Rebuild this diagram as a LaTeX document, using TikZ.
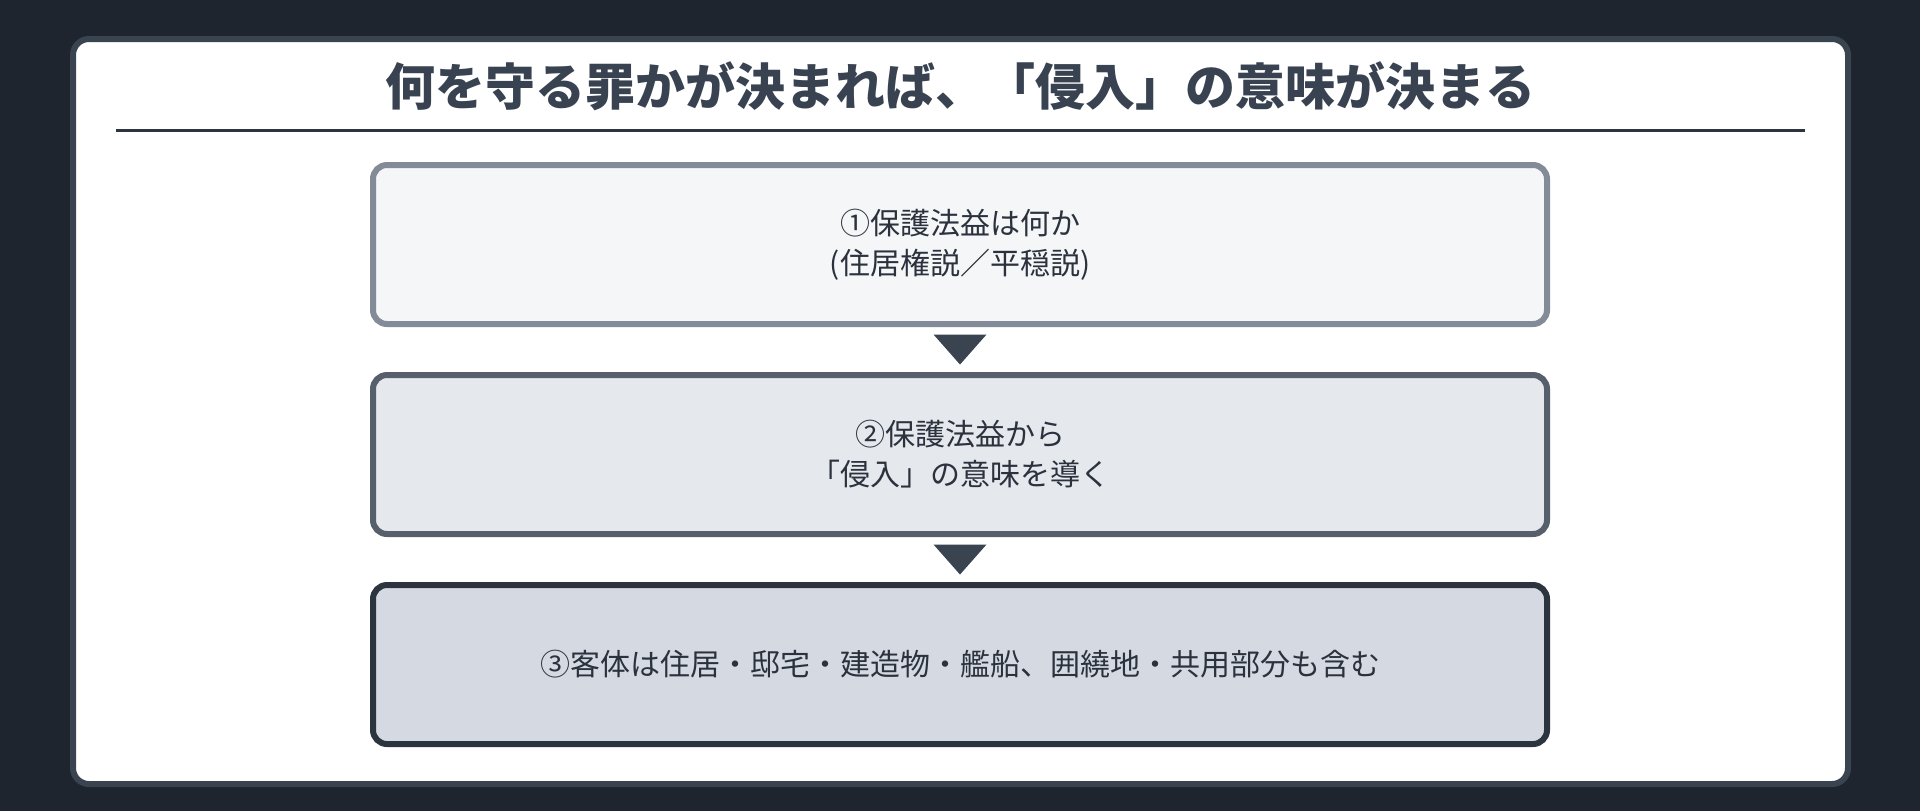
\documentclass[tikz,border=0pt]{standalone}
\usepackage{fontspec}
\setmainfont{Noto Sans CJK JP}
\usepackage{tikz}
\usetikzlibrary{positioning}
\usetikzlibrary{calc}
\definecolor{pagebg}{HTML}{1E252F}
\definecolor{cardedge}{HTML}{3A4350}
\definecolor{titletext}{HTML}{384250}
\definecolor{ruleline}{HTML}{2D3440}
\definecolor{boxtext}{HTML}{2B323D}
\definecolor{fillA}{HTML}{F4F6F8}
\definecolor{edgeA}{HTML}{848B98}
\definecolor{fillB}{HTML}{E5E8ED}
\definecolor{edgeB}{HTML}{575F6D}
\definecolor{fillC}{HTML}{D5DAE2}
\definecolor{edgeC}{HTML}{2C3440}
\definecolor{markcol}{HTML}{3A4350}
\tikzset{
  stepbox/.style={rounded corners=7pt,line width=3pt,minimum width=587pt,
    minimum height=79.5pt,align=center,text=boxtext,
    font=\fontsize{15}{20}\selectfont},
  stepA/.style={stepbox,draw=edgeA,fill=fillA},
  stepB/.style={stepbox,draw=edgeB,fill=fillB},
  stepC/.style={stepbox,draw=edgeC,fill=fillC},
  marker/.style={fill=markcol},
  card/.style={draw=cardedge,fill=white,line width=3pt,rounded corners=8pt}
}
\begin{document}
\begin{tikzpicture}[x=0.5pt,y=-0.5pt,node distance=22.5pt]
  \fill[pagebg] (0,0) rectangle (1920,811);
  \useasboundingbox (0,0) rectangle (1920,811);
  \draw[card] (73,39) rectangle (1848,784);
  \node[text=titletext,font=\fontsize{25}{30}\selectfont\bfseries] (title) at (960,86)
    {何を守る罪かが決まれば、「侵入」の意味が決まる};
  \draw[ruleline,line width=1.5pt] (116,130) coordinate (r1) -- (1805,130) coordinate (r2);
  \node[stepA] (b1) at (960,244.5) {①保護法益は何か\\(住居権説／平穏説)};
  \node[stepB,below=of b1] (b2) {②保護法益から\\「侵入」の意味を導く};
  \node[stepC,below=of b2] (b3) {③客体は住居・邸宅・建造物・艦船、囲繞地・共用部分も含む};
  % markers between the steps
  \foreach \a/\b in {b1/b2,b2/b3}
    \fill[marker] ($(\a.south)!0.5!(\b.north)+(-26.5,-15)$) -- ++(53,0) -- ++(-26.5,30) -- cycle;
\end{tikzpicture}
\end{document}
